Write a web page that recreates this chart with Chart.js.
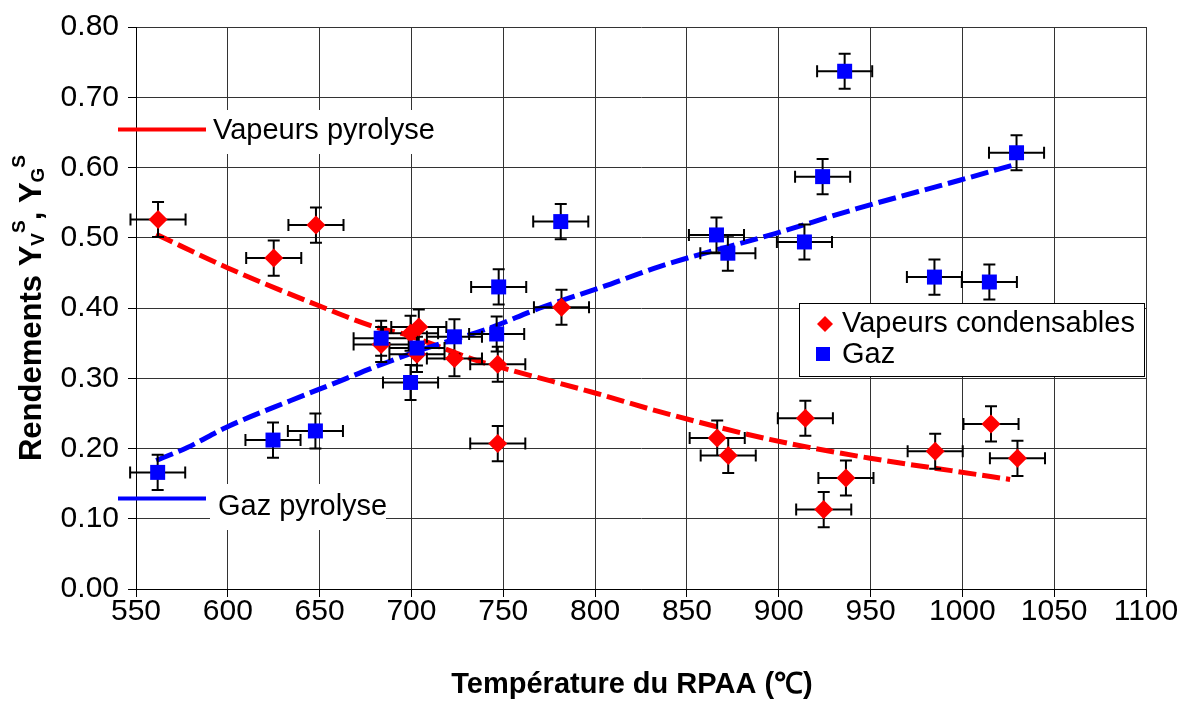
<!DOCTYPE html>
<html><head><meta charset="utf-8">
<script src="https://cdn.jsdelivr.net/npm/chart.js@4.4.0/dist/chart.umd.min.js"></script>
<style>html,body{margin:0;padding:0;background:#fff;}#wrap{width:1191px;height:702px;}</style>
</head><body><div id="wrap"><canvas id="c" width="1191" height="702"></canvas></div>
<script>
// ---- data ----
const xTickLabels = ['550','600','650','700','750','800','850','900','950','1000','1050','1100'];
const yTickLabels = ['0.00','0.10','0.20','0.30','0.40','0.50','0.60','0.70','0.80'];

const vapT = [562, 625, 648, 683.5, 699.5, 704, 703, 723.4, 747, 747, 781.7, 866.5, 872.5, 914.5, 924.5, 936.6, 985.2, 1015.6, 1030];
const vapY = [0.526, 0.471, 0.518, 0.348, 0.364, 0.373, 0.334, 0.328, 0.320, 0.207, 0.401, 0.215, 0.190, 0.243, 0.113, 0.158, 0.196, 0.235, 0.186];

const gazT = [561.8, 624.6, 647.7, 683.5, 699.5, 703, 723.4, 746.4, 747.5, 781.3, 866.1, 872.3, 914, 923.9, 935.9, 984.8, 1014.7, 1029.5];
const gazY = [0.166, 0.212, 0.225, 0.357, 0.294, 0.343, 0.359, 0.363, 0.430, 0.523, 0.504, 0.478, 0.494, 0.587, 0.737, 0.444, 0.437, 0.621];

const errT = 15;     // °C
const errY = 0.025;  // yield

const vapFitT = [561, 600, 648, 679, 697, 715, 737, 759, 800, 835, 895, 949, 994, 1026];
const vapFitY = [0.505, 0.457, 0.405, 0.374, 0.362, 0.345, 0.324, 0.308, 0.279, 0.2525, 0.213, 0.1865, 0.1685, 0.156];

const gazFitT = [561, 578, 599, 634, 661, 679, 706, 742, 770, 804, 835, 898, 942, 998, 1027];
const gazFitY = [0.183, 0.2015, 0.230, 0.268, 0.296, 0.315, 0.341, 0.371, 0.400, 0.430, 0.459, 0.506, 0.541, 0.5815, 0.603];

const seriesNames = ['Vapeurs pyrolyse', 'Gaz pyrolyse', 'Vapeurs condensables', 'Gaz'];
const xTitle = 'Température du RPAA (℃)';
const yTitleParts = [['Rendements Y', 0], ['V', 1], ['S', 2], [', Y', 0], ['G', 1], ['S', 2]];

// ---- styling ----
const FONT = "'Liberation Sans', Arial, Helvetica, sans-serif";
Chart.defaults.font.family = FONT;
Chart.defaults.color = '#000';
const RED = '#ff0000', BLUE = '#0000ff';
const pts = (xs, ys) => xs.map((x, i) => ({x: x, y: ys[i]}));

const errorBars = {
  id: 'errorBars',
  beforeDatasetDraw(chart, args) {
    if (args.index !== 2) return;
    const c = chart.ctx, xs = chart.scales.x, ys = chart.scales.y;
    c.save();
    c.strokeStyle = '#000'; c.lineWidth = 2;
    c.beginPath();
    const draw = (T, Y) => {
      for (let i = 0; i < T.length; i++) {
        const px = xs.getPixelForValue(T[i]), py = ys.getPixelForValue(Y[i]);
        const x0 = xs.getPixelForValue(T[i] - errT), x1 = xs.getPixelForValue(T[i] + errT);
        const y0 = ys.getPixelForValue(Y[i] + errY), y1 = ys.getPixelForValue(Y[i] - errY);
        c.moveTo(x0, py); c.lineTo(x1, py);
        c.moveTo(x0, py - 6); c.lineTo(x0, py + 6);
        c.moveTo(x1, py - 6); c.lineTo(x1, py + 6);
        c.moveTo(px, y0); c.lineTo(px, y1);
        c.moveTo(px - 6, y0); c.lineTo(px + 6, y0);
        c.moveTo(px - 6, y1); c.lineTo(px + 6, y1);
      }
    };
    draw(vapT, vapY); draw(gazT, gazY);
    c.stroke();
    c.restore();
  }
};

const annotations = {
  id: 'annotations',
  beforeDatasetsDraw(chart) {
    const c = chart.ctx, a = chart.chartArea;
    c.save();
    c.fillStyle = '#fff';
    c.fillRect(a.left + 70, 110, 240, 44);
    c.fillRect(a.left + 74, 484, 176, 46);
    c.lineWidth = 4;
    c.strokeStyle = RED; c.beginPath(); c.moveTo(a.left - 18, 129.5); c.lineTo(a.left + 70, 129.5); c.stroke();
    c.strokeStyle = BLUE; c.beginPath(); c.moveTo(a.left - 18, 498.5); c.lineTo(a.left + 70, 498.5); c.stroke();
    c.fillStyle = '#000';
    c.font = '29px ' + FONT;
    c.textBaseline = 'middle'; c.textAlign = 'left';
    c.fillText(seriesNames[0], a.left + 77, 131);
    c.fillText(seriesNames[1], a.left + 82, 507);
    c.restore();
  },
  afterDraw(chart) {
    const c = chart.ctx, a = chart.chartArea;
    c.save();
    // legend
    const lx = 799, ly = 303, lw = 345, lh = 73;
    c.fillStyle = '#fff'; c.fillRect(lx, ly, lw, lh);
    c.strokeStyle = '#000'; c.lineWidth = 1; c.strokeRect(lx + 0.5, ly + 0.5, lw, lh);
    c.fillStyle = RED; c.beginPath();
    const dx = 825, dy = 324, r = 8;
    c.moveTo(dx, dy - r); c.lineTo(dx + r, dy); c.lineTo(dx, dy + r); c.lineTo(dx - r, dy); c.closePath(); c.fill();
    c.fillStyle = BLUE; c.fillRect(816, 347, 14, 14);
    c.fillStyle = '#000';
    c.font = '29px ' + FONT; c.textBaseline = 'middle'; c.textAlign = 'left';
    c.fillText(seriesNames[2], 842, 324);
    c.fillText(seriesNames[3], 842, 355);
    // x axis title
    c.font = 'bold 29px ' + FONT; c.textAlign = 'center'; c.textBaseline = 'middle';
    c.fillText(xTitle, (a.left + a.right) / 2 - 9, 685);
    // y axis title with sub/superscripts
    const big = 'bold 31px ' + FONT, small = 'bold 19px ' + FONT;
    let total = 0;
    yTitleParts.forEach(p => { c.font = p[1] ? small : big; total += c.measureText(p[0]).width; });
    c.translate(41, (a.top + a.bottom) / 2);
    c.rotate(-Math.PI / 2);
    c.textBaseline = 'alphabetic'; c.textAlign = 'left';
    let x = -total / 2;
    yTitleParts.forEach(p => {
      c.font = p[1] ? small : big;
      const off = p[1] === 1 ? 3 : (p[1] === 2 ? -16 : 0);
      c.fillText(p[0], x, off);
      x += c.measureText(p[0]).width;
    });
    c.restore();
  }
};

new Chart(document.getElementById('c'), {
  type: 'scatter',
  data: {
    datasets: [
      {label: seriesNames[0], data: pts(vapFitT, vapFitY), showLine: true, borderColor: RED, borderWidth: 5,
       borderDash: [18, 6], pointRadius: 0, cubicInterpolationMode: 'monotone', order: 4},
      {label: seriesNames[1], data: pts(gazFitT, gazFitY), showLine: true, borderColor: BLUE, borderWidth: 5,
       borderDash: [18, 6], pointRadius: 0, cubicInterpolationMode: 'monotone', order: 3},
      {label: seriesNames[2], data: pts(vapT, vapY), pointStyle: 'rectRot', pointRadius: 9.5,
       backgroundColor: RED, borderColor: RED, borderWidth: 0, order: 2},
      {label: seriesNames[3], data: pts(gazT, gazY), pointStyle: 'rect', pointRadius: 10.6,
       backgroundColor: BLUE, borderColor: BLUE, borderWidth: 0, order: 1}
    ]
  },
  options: {
    responsive: false, animation: false, devicePixelRatio: 1,
    layout: {padding: {left: 0, right: 45, top: 24, bottom: 0}},
    plugins: {legend: {display: false}, tooltip: {enabled: false}},
    scales: {
      x: {
        type: 'linear', min: 550, max: 1100,
        ticks: {stepSize: 50, autoSkip: false, maxRotation: 0, padding: -3, font: {size: 30}, color: '#000',
                callback: (v, i) => xTickLabels[i] ?? String(v)},
        grid: {color: '#333', lineWidth: 1, tickLength: 8, tickColor: '#000'},
        border: {color: '#000', width: 1},
        title: {display: false},
        afterFit(s) { s.height = 113; }
      },
      y: {
        type: 'linear', min: 0, max: 0.8,
        ticks: {stepSize: 0.1, padding: 9, font: {size: 30}, color: '#000',
                callback: (v, i) => yTickLabels[i] ?? v.toFixed(2)},
        grid: {color: '#333', lineWidth: 1, tickLength: 8, tickColor: '#000'},
        border: {color: '#000', width: 1},
        afterFit(s) { s.width = 136; }
      }
    }
  },
  plugins: [errorBars, annotations]
});
</script></body></html>
